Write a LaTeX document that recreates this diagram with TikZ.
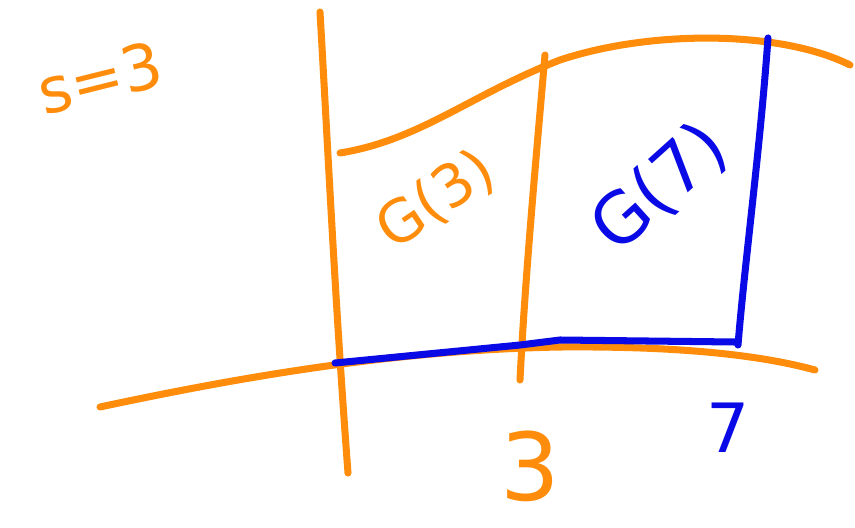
\documentclass[tikz,border=0pt]{standalone}
\usepackage{fontspec}
\setmainfont{DejaVu Sans}
\definecolor{pen}{RGB}{255,140,10}
\definecolor{bpen}{RGB}{10,10,230}
\begin{document}
\begin{tikzpicture}[x=0.03cm,y=-0.03cm,
  stroke/.style={line width=6pt,line cap=round,line join=round},
  ostroke/.style={stroke,draw=pen},
  bstroke/.style={stroke,draw=bpen},
  lbl/.style={inner sep=0pt}]
\useasboundingbox (0,0) rectangle (855,528);
% curves
\coordinate (b0) at (100,407);
\coordinate (b1) at (815,370);
\draw[ostroke] (b0) .. controls (250,375) and (400,350) .. (560,347)
  .. controls (680,346) and (760,355) .. (b1);
\coordinate (t0) at (340,153);
\coordinate (t1) at (850,65);
\draw[ostroke] (t0) .. controls (420,140) and (470,95) .. (560,60)
  .. controls (650,30) and (780,30) .. (t1);
% verticals
\coordinate (l0) at (320,12);
\coordinate (l1) at (348,473);
\draw[ostroke] (l0) .. controls (328,150) and (335,300) .. (l1);
\coordinate (m0) at (545,55);
\coordinate (m1) at (520,380);
\draw[ostroke] (m0) .. controls (535,170) and (525,280) .. (m1);
\coordinate (r0) at (768,38);
\coordinate (r1) at (738,345);
\draw[bstroke] (r0) .. controls (760,150) and (745,260) .. (r1);
\coordinate (c0) at (335,363);
\coordinate (c1) at (735,342);
\draw[bstroke] (c0) -- (520,345) -- (560,340) -- (c1);
% labels
\node[lbl,text=pen,rotate=14,font=\fontsize{54}{54}\selectfont] (s) at (100,78) {s=3};
\node[lbl,text=pen,rotate=34,font=\fontsize{50}{50}\selectfont] (g3) at (436,200) {G(3)};
\node[lbl,text=bpen,rotate=42,font=\fontsize{60}{60}\selectfont] (g7) at (660,188) {G(7)};
\node[lbl,text=pen,font=\fontsize{80}{80}\selectfont] (n3) at (530,466) {3};
\node[lbl,text=bpen,font=\fontsize{58}{58}\selectfont] (n7) at (728,428) {7};
\end{tikzpicture}
\end{document}
